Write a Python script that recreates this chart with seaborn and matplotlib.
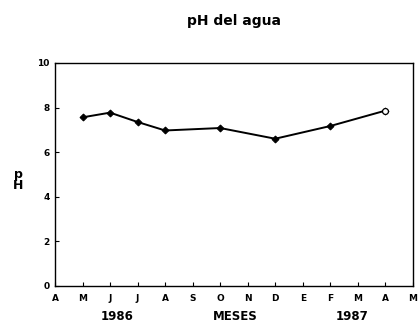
import matplotlib
matplotlib.use("Agg")
import matplotlib.pyplot as plt
import seaborn as sns
import pandas as pd

# Data
month_labels = ["A", "M", "J", "J", "A", "S", "O", "N", "D", "E", "F", "M", "A", "M"]
sample_months = [1, 2, 3, 4, 6, 8, 10, 12]
ph_values = [7.56, 7.77, 7.35, 6.97, 7.08, 6.6, 7.17, 7.86]
y_ticks = [0, 2, 4, 6, 8, 10]

df = pd.DataFrame({"mes": sample_months, "pH": ph_values})

sns.set_style("white")
plt.rcParams["font.family"] = ["DejaVu Sans"]
plt.rcParams["text.color"] = "black"
plt.rcParams["xtick.color"] = "black"
plt.rcParams["ytick.color"] = "black"

fig = plt.figure(figsize=(4.2, 3.26), dpi=100)
ax = fig.add_axes([0.131, 0.123, 0.852, 0.684])

sns.lineplot(data=df, x="mes", y="pH", ax=ax, color="black", linewidth=1.4,
             marker="D", markersize=3.5, markeredgecolor="black",
             markerfacecolor="black", legend=False)
last = df.iloc[[-1]]
sns.scatterplot(data=last, x="mes", y="pH", ax=ax, marker="o", s=18,
                facecolor="white", edgecolor="black", linewidth=0.9,
                zorder=5, legend=False)

ax.set_xlim(0, len(month_labels) - 1)
ax.set_ylim(0, 10)
ax.set_xticks(range(len(month_labels)))
ax.set_xticklabels(month_labels, fontsize=6.5, fontweight="bold", color="black")
ax.set_yticks(y_ticks)
ax.set_yticklabels([str(v) for v in y_ticks], fontsize=6.5, fontweight="bold", color="black")
ax.tick_params(axis="both", direction="in", length=3, width=0.8, colors="black",
               bottom=True, left=True)
ax.tick_params(axis="x", pad=6)
ax.tick_params(axis="y", pad=4)
ax.set_xlabel("")
ax.set_ylabel("")
for s in ax.spines.values():
    s.set_visible(True)
    s.set_color("black")
    s.set_linewidth(1.0)

fig.text(0.043, 0.448, "p\nH", ha="center", va="center", fontsize=9,
         fontweight="bold", linespacing=0.85, color="black")
fig.text(0.557, 0.935, "pH del agua", ha="center", va="center", fontsize=10,
         fontweight="bold", color="black")
fig.text(0.279, 0.028, "1986", ha="center", va="center", fontsize=8.5,
         fontweight="bold", color="black")
fig.text(0.56, 0.028, "MESES", ha="center", va="center", fontsize=8.5,
         fontweight="bold", color="black")
fig.text(0.838, 0.028, "1987", ha="center", va="center", fontsize=8.5,
         fontweight="bold", color="black")

fig.savefig("out.png", dpi=100, facecolor="white")
